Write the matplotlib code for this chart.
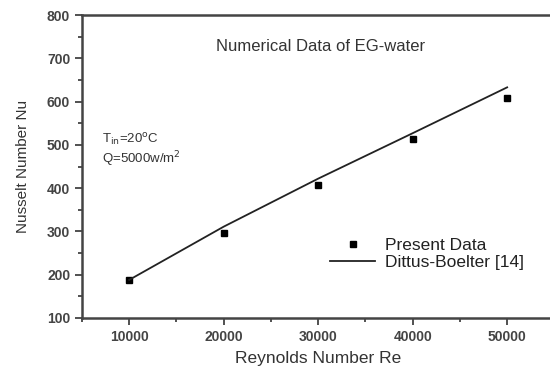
import numpy as np
import matplotlib
matplotlib.use("Agg")
import matplotlib.pyplot as plt
from matplotlib.ticker import MultipleLocator

plt.rcParams['font.family'] = ['Liberation Sans', 'DejaVu Sans']

# Data
re_numbers = [10000, 20000, 30000, 40000, 50000]
nu_present = [188, 297, 408, 513, 609]
nu_dittus = [188, 311, 422, 527, 633]

fig = plt.figure(figsize=(5.5, 3.68), dpi=100)
ax = fig.add_axes([0.149, 0.136, 0.859, 0.823])

ax.plot(re_numbers, nu_present, 's', color='black', markersize=5, label='Present Data')
ax.plot(re_numbers, nu_dittus, '-', color='#222222', linewidth=1.3, label='Dittus-Boelter [14]')

ax.set_xlim(5000, 55000)
ax.set_ylim(100, 800)
ax.xaxis.set_major_locator(MultipleLocator(10000))
ax.xaxis.set_minor_locator(MultipleLocator(5000))
ax.yaxis.set_major_locator(MultipleLocator(100))
ax.yaxis.set_minor_locator(MultipleLocator(50))
ax.tick_params(which='both', direction='out', top=False, right=False, color='#333333', width=1.2)
ax.tick_params(which='major', length=5, labelsize=10, colors='#333333')
ax.tick_params(which='minor', length=3)
for lbl in ax.get_xticklabels() + ax.get_yticklabels():
    lbl.set_fontweight('bold')
    lbl.set_color('#444444')

for s in ax.spines.values():
    s.set_linewidth(1.8)
    s.set_color('#444444')

ax.set_xlabel('Reynolds Number Re', fontsize=12.5, color='#333333', labelpad=5)
ax.set_ylabel('Nusselt Number Nu', fontsize=11, color='#333333', labelpad=12)

ax.text(30200, 728, 'Numerical Data of EG-water', fontsize=12, color='#333333', ha='center', va='center')
ax.text(7100, 512, r'T$_{\rm in}$=20$^{\rm o}$C', fontsize=9.5, color='#333333', va='center')
ax.text(7100, 466, r'Q=5000w/m$^{2}$', fontsize=9.5, color='#333333', va='center')

ax.legend(loc='upper left', bbox_to_anchor=(0.525, 0.265), frameon=False, fontsize=12.5,
          borderpad=0, borderaxespad=0, handlelength=2.6, handletextpad=0.55,
          labelspacing=0.12, labelcolor='#222222')

fig.savefig('out.png', dpi=100)
